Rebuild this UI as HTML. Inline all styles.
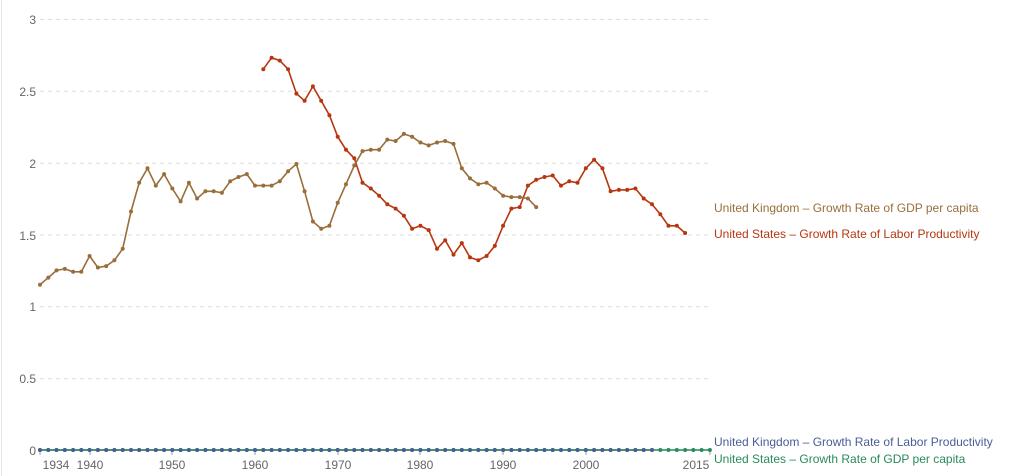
<!DOCTYPE html>
<html><head><meta charset="utf-8"><style>
body{margin:0;background:#fff;}
svg{display:block;font-family:"Liberation Sans",sans-serif;}
</style></head><body>
<svg id="s" width="1023" height="476" viewBox="0 0 1023 476">
<line x1="1.5" y1="0" x2="1.5" y2="476" stroke="#e8e8e8"/>
<g stroke="#ddd" stroke-dasharray="4,4" stroke-width="1">
<line x1="40" x2="710" y1="19.5" y2="19.5"/>
<line x1="40" x2="710" y1="91.3" y2="91.3"/>
<line x1="40" x2="710" y1="163.2" y2="163.2"/>
<line x1="40" x2="710" y1="235" y2="235"/>
<line x1="40" x2="710" y1="306.8" y2="306.8"/>
<line x1="40" x2="710" y1="378.7" y2="378.7"/>
</g>
<g fill="#666" font-size="12" text-anchor="end">
<text x="36" y="24">3</text>
<text x="36" y="96">2.5</text>
<text x="36" y="168">2</text>
<text x="36" y="240">1.5</text>
<text x="36" y="311">1</text>
<text x="36" y="383">0.5</text>
<text x="36" y="455">0</text>
</g>
<g stroke="#999"><line x1="40" x2="40" y1="450" y2="455"/><line x1="90" x2="90" y1="450" y2="455"/><line x1="172" x2="172" y1="450" y2="455"/><line x1="255" x2="255" y1="450" y2="455"/><line x1="338" x2="338" y1="450" y2="455"/><line x1="420" x2="420" y1="450" y2="455"/><line x1="503" x2="503" y1="450" y2="455"/><line x1="586" x2="586" y1="450" y2="455"/><line x1="710" x2="710" y1="450" y2="455"/></g>
<g fill="#666" font-size="12" text-anchor="middle">
<text x="56" y="469">1934</text><text x="90" y="469">1940</text><text x="172" y="469">1950</text><text x="255" y="469">1960</text><text x="338" y="469">1970</text><text x="420" y="469">1980</text><text x="503" y="469">1990</text><text x="586" y="469">2000</text><text x="696" y="469">2015</text>
</g>
<g id="g"></g>
<g font-size="12">
<text x="714" y="212" fill="#9a6e3a">United Kingdom – Growth Rate of GDP per capita</text>
<text x="714" y="238" fill="#b8360f">United States – Growth Rate of Labor Productivity</text>
<text x="714" y="446" fill="#4a5d96">United Kingdom – Growth Rate of Labor Productivity</text>
<text x="714" y="463" fill="#2a8a5a">United States – Growth Rate of GDP per capita</text>
</g>
</svg>
<script>
var X=function(y){return 40+(y-1934)*8.27},Y=function(v){return 450-v*143.7};
var uk=[1.15,1.20,1.25,1.26,1.24,1.24,1.35,1.27,1.28,1.32,1.40,1.66,1.86,1.96,1.84,1.92,1.82,1.73,1.86,1.75,1.80,1.80,1.79,1.87,1.90,1.92,1.84,1.84,1.84,1.87,1.94,1.99,1.80,1.59,1.54,1.56,1.72,1.85,1.98,2.08,2.09,2.09,2.16,2.15,2.20,2.18,2.14,2.12,2.14,2.15,2.13,1.96,1.89,1.85,1.86,1.82,1.77,1.76,1.76,1.75,1.69];
var us=[2.65,2.73,2.71,2.65,2.48,2.43,2.53,2.43,2.33,2.18,2.09,2.03,1.86,1.82,1.77,1.71,1.68,1.63,1.54,1.56,1.53,1.40,1.46,1.36,1.44,1.34,1.32,1.35,1.42,1.56,1.68,1.69,1.84,1.88,1.90,1.91,1.84,1.87,1.86,1.96,2.02,1.96,1.80,1.81,1.81,1.82,1.75,1.71,1.64,1.56,1.56,1.51];
var h='';
function ser(d,y0,c){var p='';d.forEach(function(v,i){p+=(i?'L':'M')+X(y0+i).toFixed(1)+','+Y(v).toFixed(1);h+='<circle cx="'+X(y0+i).toFixed(1)+'" cy="'+Y(v).toFixed(1)+'" r="2" fill="'+c+'"/>';});h='<path d="'+p+'" fill="none" stroke="'+c+'" stroke-width="1.6"/>'+h;}
var z1=[],z2=[];for(var i=1934;i<=2015;i++)z2.push(0);
ser(z2,1934,'#2a8a5a');
var z=[];for(var i=1934;i<=2008;i++)z.push(0);
ser(z,1934,'#4a5d96');
ser(uk,1934,'#9a6e3a');
ser(us,1961,'#b8360f');
document.getElementById('g').innerHTML=h;
</script>
</body></html>
